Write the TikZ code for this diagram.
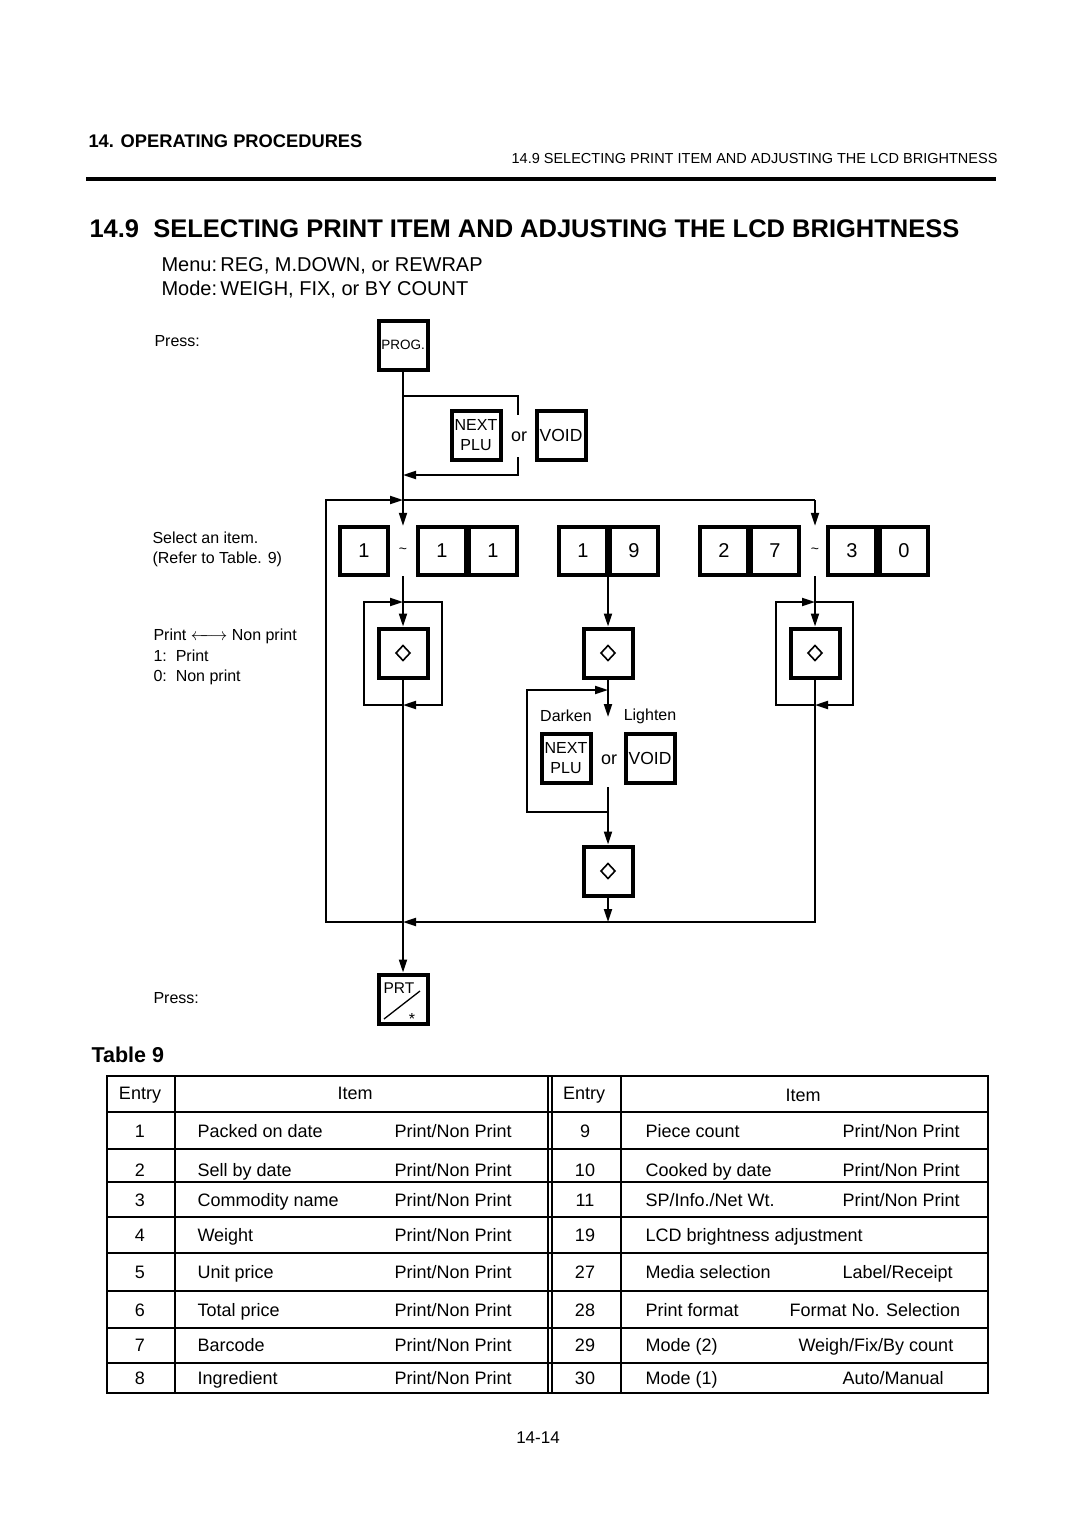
\documentclass[tikz,border=0pt]{standalone}
\usepackage{fontspec}
\setmainfont{Liberation Sans}
\usetikzlibrary{arrows.meta}
\tikzset{l/.style={font=\fontsize{16}{16}\selectfont}}
\tikzset{t/.style={font=\fontsize{18}{18}\selectfont}}
\tikzset{btn/.style={draw,line width=4pt,minimum size=49pt,inner sep=0pt}}
\tikzset{dig/.style={btn,minimum size=48pt,font=\fontsize{20}{20}\selectfont}}
\tikzset{tld/.style={minimum height=50pt,inner sep=0pt,font=\fontsize{14}{14}\selectfont}}
\tikzset{wire/.style={line width=2pt}}
\tikzset{arr/.style={wire,-{Triangle[length=13pt,width=8pt]}}}
\newcommand{\dmd}{\tikz\draw[line width=1.6pt] (0,7.5pt)--(7pt,0)--(0,-7.5pt)--(-7pt,0)--cycle;}

\begin{document}
\begin{tikzpicture}[x=1pt,y=-1pt]
  \useasboundingbox (0,0) rectangle (1080,1525);
  % page header
  \node[anchor=base west,font=\bfseries\fontsize{18.3}{18}\selectfont] (chap) at (85,148) {14. OPERATING PROCEDURES};
  \node[anchor=base east,font=\fontsize{14.5}{14.5}\selectfont] (sect) at (1001,164) {14.9 SELECTING PRINT ITEM AND ADJUSTING THE LCD BRIGHTNESS};
  \draw[line width=4pt] (86,179) -- (996,179);
  \node[anchor=base west,font=\bfseries\fontsize{25.5}{25.5}\selectfont] (title) at (86,237) {14.9\ \ SELECTING PRINT ITEM AND ADJUSTING THE LCD BRIGHTNESS};
  \node[anchor=base west,font=\fontsize{20}{20}\selectfont] (menu) at (158,271) {Menu:\,REG, M.DOWN, or REWRAP};
  \node[anchor=base west,font=\fontsize{20}{20}\selectfont] (mode) at (158,295) {Mode:\,WEIGH, FIX, or BY COUNT};

  % side notes
  \node[l,anchor=base west] (press1) at (151,346) {Press:};
  \node[l,anchor=base west] (sel) at (149,543) {Select an item.};
  \node[l,anchor=base west] (refer) at (149,563) {(Refer to Table. 9)};
  \node[l,anchor=base west] (pnp) at (150,640) {Print $\leftarrow\!\!\!\longrightarrow$ Non print};
  \node[l,anchor=base west] (p1) at (150,661) {1:\ \ Print};
  \node[l,anchor=base west] (p0) at (150,681) {0:\ \ Non print};
  \node[l,anchor=base west] (press2) at (150,1003) {Press:};

  % keys
  \node[btn,font=\fontsize{13.5}{13.5}\selectfont] (prog) at (403,345) {PROG.};
  \node[btn,font=\fontsize{16}{20}\selectfont,align=center] (next1) at (476,435) {NEXT\\PLU};
  \node[font=\fontsize{18}{18}\selectfont] (or1) at (519,437) {or};
  \node[btn,font=\fontsize{17.5}{17.5}\selectfont] (void1) at (561,435) {VOID};

  \node[dig] (k1) at (364,551) {1};
  \node[tld] (tilde1) at (403,551) {\textasciitilde};
  \node[dig] (k11a) at (442,551) {1};
  \node[dig] (k11b) at (493,551) {1};
  \node[dig] (k19a) at (583,551) {1};
  \node[dig] (k19b) at (634,551) {9};
  \node[dig] (k27a) at (724,551) {2};
  \node[dig] (k27b) at (775,551) {7};
  \node[tld] (tilde2) at (815,551) {\textasciitilde};
  \node[dig] (k30a) at (852,551) {3};
  \node[dig] (k30b) at (904,551) {0};

  \node[btn] (d1) at (403,653) {\dmd};
  \node[btn] (d2) at (608,653) {\dmd};
  \node[btn] (d3) at (815,653) {\dmd};
  \node[btn] (d4) at (608,871) {\dmd};

  \node[l] (dark) at (566,716) {Darken};
  \node[l] (light) at (650,716) {Lighten};
  \node[btn,font=\fontsize{16}{20}\selectfont,align=center] (next2) at (566,758) {NEXT\\PLU};
  \node[font=\fontsize{18}{18}\selectfont] (or2) at (609,760) {or};
  \node[btn,font=\fontsize{17.5}{17.5}\selectfont] (void2) at (650,758) {VOID};

  \node[btn] (prt) at (403,999) {};
  \node[anchor=base west,font=\fontsize{15.5}{15.5}\selectfont] (prtlbl) at (380,993) {PRT};
  \draw[line width=1.3pt] (384,1019) -- (420,991);
  \node[anchor=base,font=\fontsize{16}{16}\selectfont] (prtstar) at (412,1024) {*};

  % connector points
  \coordinate (by1) at (403,396);
  \coordinate (by3) at (518,415);
  \coordinate (by4) at (518,457);
  \coordinate (by6) at (403,475);
  \coordinate (lpA) at (326,922);
  \coordinate (lpB) at (326,500);
  \coordinate (lpC) at (403,500);
  \coordinate (lpD) at (815,500);
  \coordinate (lpE) at (815,922);
  \coordinate (lpF) at (403,922);
  \coordinate (lu1) at (403,602);
  \coordinate (lu2) at (403,705);
  \coordinate (lu3) at (364,602);
  \coordinate (lu4) at (442,705);
  \coordinate (ru1) at (815,602);
  \coordinate (ru2) at (815,705);
  \coordinate (ru3) at (776,602);
  \coordinate (ru4) at (853,705);
  \coordinate (dl) at (608,717);
  \coordinate (mb1) at (608,812);
  \coordinate (mb2) at (527,690);
  \coordinate (mb3) at (608,690);
  \coordinate (mb4) at (608,787);

  % flow
  \draw[arr] (prog) -- (tilde1);
  \draw[wire] (by1) -| (by3);
  \draw[arr] (by4) |- (by6);
  \draw[arr] (lpF) -- (lpA) -- (lpB) -- (lpC);
  \draw[wire] (lpC) -- (lpD);
  \draw[arr] (lpD) -- (tilde2);
  \draw[arr] (tilde1) -- (d1);
  \draw[arr] (lu2) -| (lu3) -- (lu1);
  \draw[arr] (lu1) -| (lu4) -- (lu2);
  \draw[arr] (d1) -- (prt);
  \draw[arr] (tilde2) -- (d3);
  \draw[arr] (ru2) -| (ru3) -- (ru1);
  \draw[arr] (ru1) -| (ru4) -- (ru2);
  \draw[arr] (d3) -- (lpE) -- (lpF);
  \draw[arr] (k19a.south east -| d2) -- (d2);
  \draw[arr] (d2) -- (dl);
  \draw[arr] (mb1) -| (mb2) -- (mb3);
  \draw[arr] (mb4) -- (d4);
  \draw[arr] (d4) -- (d4 |- lpE);

  % Table 9
  \node[anchor=base west,font=\bfseries\fontsize{21.5}{21.5}\selectfont] (tabcap) at (88,1062) {Table 9};
  \draw[line width=2pt] (107,1076) rectangle (988,1393);
  \foreach \y in {1112,1149,1182,1217,1253,1291,1328,1363}
    \draw[line width=1.4pt] (107,\y) -- (988,\y);
  \foreach \x in {175,548,552,621}
    \draw[line width=1.4pt] (\x,1076) -- (\x,1393);
  \node[t] (hentL) at (140,1095) {Entry};
  \node[t] (hitemL) at (355,1093) {Item};
  \node[t] (hentR) at (584,1095) {Entry};
  \node[t] (hitemR) at (803,1095) {Item};
  \foreach \y/\n/\a in {1137/1/Packed on date,1176/2/Sell by date,1206/3/Commodity name,
      1241/4/Weight,1278/5/Unit price,1316/6/Total price,1351/7/Barcode,1384/8/Ingredient}{
    \node[t,anchor=base] (le\n) at (140,\y) {\n};
    \node[t,anchor=base west] (li\n) at (194,\y) {\a};
    \node[t,anchor=base west] (lp\n) at (391,\y) {Print/Non Print};
  }
  \foreach \y/\n/\x/\b in {1137/9/839/{Print/Non Print},
      1176/10/839/{Print/Non Print},
      1206/11/839/{Print/Non Print},
      1278/27/839/{Label/Receipt},
      1316/28/786/{Format No. Selection},
      1351/29/795/{Weigh/Fix/By count},
      1384/30/839/{Auto/Manual}}{
    \node[t,anchor=base] (re\n) at (585,\y) {\n};
    \node[t,anchor=base west] (rp\n) at (\x,\y) {\b};
  }
  \node[t,anchor=base west] (ri9) at (642,1137) {Piece count};
  \node[t,anchor=base west] (ri10) at (642,1176) {Cooked by date};
  \node[t,anchor=base west] (ri11) at (642,1206) {SP/Info./Net Wt.};
  \node[t,anchor=base] (re19) at (585,1241) {19};
  \node[t,anchor=base west] (ri19) at (642,1241) {LCD brightness adjustment};
  \node[t,anchor=base west] (ri27) at (642,1278) {Media selection};
  \node[t,anchor=base west] (ri28) at (642,1316) {Print format};
  \node[t,anchor=base west] (ri29) at (642,1351) {Mode (2)};
  \node[t,anchor=base west] (ri30) at (642,1384) {Mode (1)};

  \node[anchor=base,font=\fontsize{17}{17}\selectfont] (pageno) at (538,1443) {14-14};
\end{tikzpicture}
\end{document}
